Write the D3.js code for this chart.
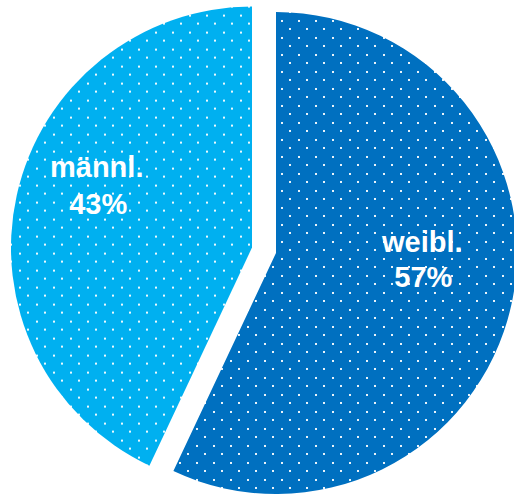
<!DOCTYPE html>
<html>
<head>
<meta charset="utf-8">
<script src="https://cdn.jsdelivr.net/npm/d3@7/dist/d3.min.js"></script>
<style>
  html, body { margin: 0; padding: 0; background: #fff; }
  svg { display: block; }
</style>
</head>
<body>
<svg id="chart" width="514" height="494"></svg>
<script>
// Gender split, shares in percent
const categories = ["weibl.", "männl."];
const shares = [57, 43];
const valueLabels = ["57%", "43%"];
const colors = ["#0070C0", "#00B0F0"];

const svg = d3.select("#chart");
const cx = 264, cy = 250.3;
const R = 241;
const explode = 12.3;

// Dotted fill: small white squares on a staggered 17px grid
const defs = svg.append("defs");
colors.forEach((c, i) => {
  const p = defs.append("pattern")
    .attr("id", "dots" + i)
    .attr("patternUnits", "userSpaceOnUse")
    .attr("width", 17).attr("height", 17);
  p.append("rect").attr("width", 17).attr("height", 17).attr("fill", c);
  p.append("rect").attr("x", 5).attr("y", 5).attr("width", 2).attr("height", 2).attr("fill", "#fff").attr("opacity", 0.92);
  p.append("rect").attr("x", 13).attr("y", 13).attr("width", 2).attr("height", 2).attr("fill", "#fff").attr("opacity", 0.92);
});

const pie = d3.pie().sort(null).value(d => d.v)
  .startAngle(0).endAngle(2 * Math.PI);
const data = pie(categories.map((c, i) => ({ c, v: shares[i], label: valueLabels[i], i })));

const arc = d3.arc().innerRadius(0).outerRadius(R);
const labelArc = d3.arc().innerRadius(155).outerRadius(155);

const g = svg.append("g").attr("transform", `translate(${cx},${cy})`);

const slices = g.selectAll("g.slice").data(data).join("g")
  .attr("class", "slice")
  .attr("transform", d => {
    const a = (d.startAngle + d.endAngle) / 2;
    return `translate(${explode * Math.sin(a)},${-explode * Math.cos(a)})`;
  });

slices.append("path")
  .attr("d", arc)
  .attr("fill", d => `url(#dots${d.data.i})`);

// Two-line label: category name above, share below
const nameShift = [-5, -4];
const valueShift = [-4, -2.5];
const labels = slices.append("text")
  .attr("transform", d => {
    const [x, y] = labelArc.centroid(d);
    return `translate(${x},${y})`;
  })
  .attr("text-anchor", "middle")
  .attr("fill", "#fff")
  .attr("font-family", "Liberation Sans, Arial, sans-serif")
  .attr("font-weight", "bold")
  .attr("font-size", 29);

labels.append("tspan").attr("x", d => nameShift[d.data.i]).attr("y", d => d.data.i === 1 ? -37 : -35).text(d => d.data.c);
labels.append("tspan").attr("x", d => valueShift[d.data.i]).attr("y", 0).text(d => d.data.label);
</script>
</body>
</html>
